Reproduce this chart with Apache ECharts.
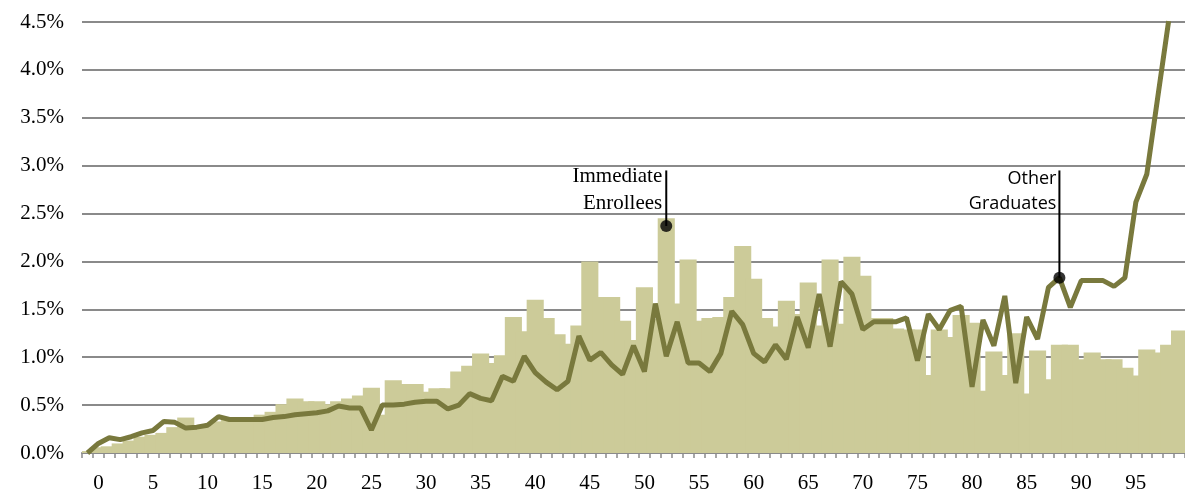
<!DOCTYPE html>
<html>
<head>
<meta charset="utf-8">
<script src="https://cdn.jsdelivr.net/npm/echarts@6/dist/echarts.min.js"></script>
<style>
  html, body { margin: 0; padding: 0; background: #fff; }
  #chart { width: 1185px; height: 497px; }
</style>
</head>
<body>
<div id="chart"></div>
<script>
// Category axis: one unlabeled lead-in slot, then 0..99
const categories = [''].concat(Array.from({ length: 100 }, (_, i) => String(i)));

// Immediate enrollees (bars), percent
const immediateEnrollees = [
  0.02, 0.06, 0.07, 0.10, 0.13, 0.17, 0.19, 0.21, 0.27, 0.37,
  0.27, 0.27, 0.33, 0.36, 0.36, 0.36, 0.40, 0.43, 0.51, 0.57,
  0.54, 0.54, 0.51, 0.54, 0.57, 0.60, 0.68, 0.40, 0.76, 0.72,
  0.72, 0.64, 0.675, 0.675, 0.85, 0.91, 1.04, 0.94, 1.02, 1.42,
  1.27, 1.60, 1.41, 1.24, 1.14, 1.33, 2.00, 1.63, 1.63, 1.38,
  1.18, 1.73, 1.40, 2.45, 1.56, 2.02, 1.38, 1.41, 1.42, 1.63,
  2.16, 1.82, 1.41, 1.32, 1.59, 1.45, 1.78, 1.33, 2.02, 1.35,
  2.05, 1.85, 1.41, 1.41, 1.30, 1.29, 1.29, 0.815, 1.29, 1.21,
  1.44, 1.36, 0.65, 1.06, 0.815, 1.25, 0.62, 1.07, 0.77, 1.13,
  1.13, 0.98, 1.05, 0.98, 0.98, 0.89, 0.81, 1.08, 1.05, 1.13,
  1.28
];

// Other graduates (line), percent
const otherGraduates = [
  0.00, 0.10, 0.16, 0.14, 0.17, 0.21, 0.235, 0.33, 0.32, 0.26,
  0.27, 0.29, 0.38, 0.35, 0.35, 0.35, 0.35, 0.37, 0.38, 0.40,
  0.41, 0.42, 0.44, 0.49, 0.47, 0.47, 0.24, 0.50, 0.50, 0.51,
  0.53, 0.54, 0.54, 0.46, 0.50, 0.62, 0.57, 0.545, 0.80, 0.75,
  1.01, 0.84, 0.74, 0.66, 0.75, 1.22, 0.97, 1.05, 0.92, 0.82,
  1.12, 0.85, 1.56, 1.01, 1.37, 0.94, 0.94, 0.85, 1.04, 1.48,
  1.34, 1.04, 0.95, 1.13, 0.98, 1.42, 1.10, 1.66, 1.11, 1.79,
  1.66, 1.29, 1.37, 1.37, 1.37, 1.41, 0.965, 1.45, 1.29, 1.49,
  1.53, 0.69, 1.39, 1.12, 1.64, 0.73, 1.42, 1.19, 1.73, 1.83,
  1.52, 1.80, 1.80, 1.80, 1.74, 1.83, 2.62, 2.91, 3.71, 4.51,
  null
];

// Y axis ticks
const yMin = 0, yMax = 4.5, yStep = 0.5;

// Callouts: category index, dot value, leader-line top value, text
const calloutIndex = [53, 89];
const calloutDot = [2.37, 1.83];
const calloutTop = [2.95, 2.95];
const calloutText = ['Immediate\nEnrollees', 'Other\nGraduates'];

const BAR = '#cccb99';
const LINE = '#79793d';
const GRID = '#8a8a8a';

const chart = echarts.init(document.getElementById('chart'), null, { renderer: 'canvas' });

chart.setOption({
  animation: false,
  backgroundColor: '#ffffff',
  grid: { left: 82, right: 0, top: 22, bottom: 44 },
  xAxis: {
    type: 'category',
    data: categories,
    boundaryGap: true,
    axisLine: { show: true, lineStyle: { color: GRID, width: 2 } },
    axisTick: { show: true, interval: 0, length: 5, lineStyle: { color: GRID, width: 1.5 } },
    axisLabel: {
      interval: (idx, val) => val !== '' && Number(val) % 5 === 0,
      margin: 20,
      color: '#000',
      fontFamily: 'Liberation Serif',
      fontSize: 21
    },
    splitLine: { show: false }
  },
  yAxis: {
    type: 'value',
    min: yMin,
    max: yMax,
    interval: yStep,
    axisLine: { show: false },
    axisTick: { show: false },
    axisLabel: {
      margin: 18,
      color: '#000',
      fontFamily: 'Liberation Serif',
      fontSize: 21,
      formatter: v => v.toFixed(1) + '%'
    },
    splitLine: { show: true, lineStyle: { color: GRID, width: 2 } }
  },
  series: [
    {
      name: 'Immediate Enrollees',
      type: 'bar',
      data: immediateEnrollees,
      barWidth: '156.6%',
      itemStyle: { color: BAR },
      z: 2
    },
    {
      name: 'Other Graduates',
      type: 'line',
      data: otherGraduates,
      showSymbol: false,
      symbol: 'none',
      lineStyle: { color: LINE, width: 5 },
      z: 3
    },
    {
      name: 'callouts',
      type: 'scatter',
      data: calloutIndex.map((c, k) => [c, calloutDot[k]]),
      symbol: 'circle',
      symbolSize: 12,
      itemStyle: { color: '#000' },
      z: 5
    }
  ]
});

// Leader lines and callout text, positioned through the axes
const graphics = [];
calloutIndex.forEach((c, k) => {
  const dot = chart.convertToPixel({ gridIndex: 0 }, [c, calloutDot[k]]);
  const top = chart.convertToPixel({ gridIndex: 0 }, [c, calloutTop[k]]);
  graphics.push({
    type: 'line',
    shape: { x1: dot[0], y1: dot[1], x2: top[0], y2: top[1] },
    style: { stroke: '#000', lineWidth: 2 },
    z: 10
  });
  const serif = k === 0;
  graphics.push({
    type: 'text',
    x: top[0] - (serif ? 4 : 3),
    y: top[1] - (serif ? 7 : 4),
    style: {
      text: calloutText[k],
      align: 'right',
      verticalAlign: 'top',
      fontFamily: serif ? 'Liberation Serif' : 'Open Sans',
      fontSize: serif ? 21 : 18,
      lineHeight: serif ? 27 : 25,
      fill: '#000'
    },
    z: 10
  });
});
chart.setOption({ graphic: graphics });
</script>
</body>
</html>
